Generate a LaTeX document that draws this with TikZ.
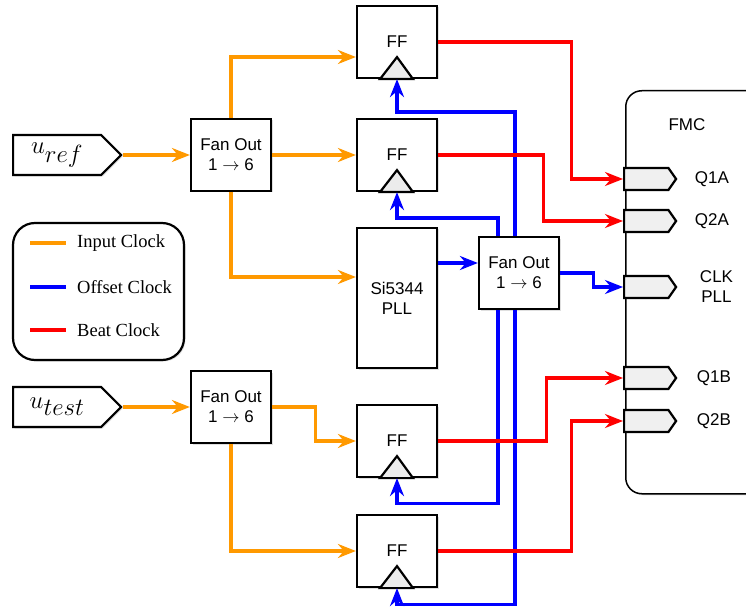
\documentclass[tikz,border=0pt]{standalone}
\usepackage{fontspec}
\setmainfont{Liberation Serif}
\setsansfont{Liberation Sans}
\usepackage{tikz}
\usetikzlibrary{shapes.symbols, arrows.meta, calc, shadows}
\definecolor{clkorange}{RGB}{255,153,0}
\definecolor{clkblue}{RGB}{0,0,255}
\definecolor{clkred}{RGB}{255,0,0}

\begin{document}
\begin{tikzpicture}[x=1pt, y=-1pt,
  shade/.style={drop shadow={opacity=0.25, shadow xshift=1.5pt, shadow yshift=-1.5pt}},
  box/.style={draw, line width=2.2pt, fill=white, shade, minimum width=80pt, minimum height=72pt,
    align=center, font=\sffamily\fontsize{17}{20}\selectfont},
  insig/.style={draw, line width=2.2pt, fill=white, shade, signal, signal to=east, signal pointer angle=90,
    minimum width=108pt, minimum height=40pt, anchor=west, font=\fontsize{31}{32}\selectfont},
  conn/.style={draw, line width=2.2pt, fill=gray!12, signal, signal to=east, signal pointer angle=110,
    minimum width=52pt, minimum height=22pt, inner sep=0pt, anchor=west},
  pinlbl/.style={font=\sffamily\fontsize{17}{20}\selectfont, align=center},
  clktri/.style={draw, line width=2.2pt, fill=gray!15, line join=miter},
  inclk/.style={draw=clkorange, line width=3.2pt, -{Stealth[length=18pt, width=14pt, inset=6pt]}},
  offclk/.style={draw=clkblue, line width=3.2pt, -{Stealth[length=18pt, width=14pt, inset=6pt]}},
  beatclk/.style={draw=clkred, line width=3.2pt, -{Stealth[length=18pt, width=14pt, inset=6pt]}},
]
\useasboundingbox (0,0) rectangle (746,612);
\clip (0,0) rectangle (746,612);

% FMC card
\node[draw, line width=1.5pt, rounded corners=16pt, fill=white, shade, minimum width=175pt, minimum height=403pt,
  anchor=north west] (fmc) at (625,90) {};
\node[pinlbl] (fmclbl) at (687,125) {FMC};

% legend
\node[draw, line width=2.2pt, rounded corners=22pt, fill=white, shade, minimum width=171pt, minimum height=137pt]
  (legend) at (98.5,291.5) {};
\draw[clkorange, line width=3.2pt] (30,243) -- ++(36,0);
\draw[clkblue, line width=3.2pt] (30,287) -- ++(36,0);
\draw[clkred, line width=3.2pt] (30,330) -- ++(36,0);
\node[anchor=west, inner sep=0pt, font=\fontsize{18.5}{22}\selectfont] (lgin) at (77,243) {Input Clock};
\node[anchor=west, inner sep=0pt, font=\fontsize{18.5}{22}\selectfont] (lgoff) at (77,287) {Offset Clock};
\node[anchor=west, inner sep=0pt, font=\fontsize{18.5}{22}\selectfont] (lgbeat) at (77,330) {Beat Clock};

% inputs and fan outs
\node[insig] (uref) at (12,155) {$u_{\textstyle ref}$};
\node[insig] (utest) at (12,407) {$u_{\textstyle test}$};
\node[box] (fo1) at (231,155) {Fan Out\\1 $\rightarrow$ 6};
\node[box] (fo3) at (231,407) {Fan Out\\1 $\rightarrow$ 6};
\node[box] (fo2) at (519,273) {Fan Out\\1 $\rightarrow$ 6};

% flip flops and PLL
\node[box] (ff1) at (397,42) {FF};
\node[box] (ff2) at (397,155) {FF};
\node[box, minimum height=140pt] (pll) at (397,298) {Si5344\\PLL};
\node[box] (ff3) at (397,441) {FF};
\node[box] (ff4) at (397,551) {FF};
\foreach \f in {ff1,ff2,ff3,ff4}
  \draw[clktri] ([xshift=-17pt]\f.south) -- ([yshift=22pt]\f.south) -- ([xshift=16pt]\f.south) -- cycle;

% FMC pins
\node[conn, label={[pinlbl, label distance=14pt]right:Q1A}] (cq1a) at (623,179) {};
\node[conn, label={[pinlbl, label distance=14pt]right:Q2A}] (cq2a) at (623,221) {};
\node[conn, label={[pinlbl, label distance=19pt]right:CLK\\PLL}] (cclk) at (623,287) {};
\node[conn, label={[pinlbl, label distance=16pt]right:Q1B}] (cq1b) at (623,378) {};
\node[conn, label={[pinlbl, label distance=16pt]right:Q2B}] (cq2b) at (623,421) {};

% input clock
\draw[inclk] (uref.east) -- (fo1.west);
\draw[inclk] (fo1.north) |- ([yshift=-15pt]ff1.west);
\draw[inclk] (fo1.east) -- (ff2.west);
\draw[inclk] (fo1.south) |- ([yshift=21pt]pll.west);
\draw[inclk] (utest.east) -- (fo3.west);
\draw[inclk] (fo3.east) -- ++(43,0) |- (ff3.west);
\draw[inclk] (fo3.south) |- (ff4.west);

% offset clock
\coordinate (pllout) at ([yshift=35pt]pll.east);
\draw[offclk] (pllout) -- (pllout -| fo2.west);
\draw[offclk] ([xshift=-4pt]fo2.north) |- ([yshift=-33pt]ff1.south) -- (ff1.south);
\draw[offclk] ([xshift=-21pt]fo2.north) |- ([yshift=-26pt]ff2.south) -- (ff2.south);
\draw[offclk] ([xshift=-21pt]fo2.south) |- ([yshift=-25pt]ff3.south) -- (ff3.south);
\draw[offclk] ([xshift=-4pt]fo2.south) |- ([yshift=-16pt]ff4.south) -- (ff4.south);
\draw[offclk] (fo2.east) -- ++(33,0) |- (cclk.west);

% beat clock
\draw[beatclk] (ff1.east) -- ++(133,0) |- (cq1a.west);
\draw[beatclk] (ff2.east) -- ++(105,0) |- (cq2a.west);
\draw[beatclk] (ff3.east) -- ++(108,0) |- (cq1b.west);
\draw[beatclk] (ff4.east) -- ++(133,0) |- (cq2b.west);

\end{tikzpicture}
\end{document}
